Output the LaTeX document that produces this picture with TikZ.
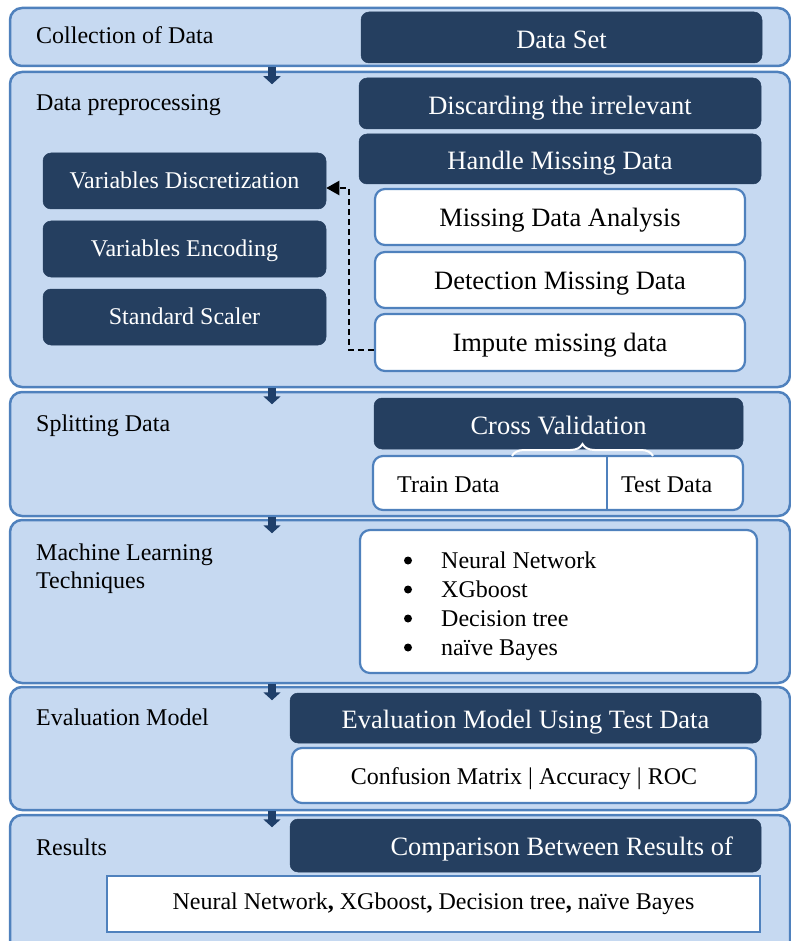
\documentclass[tikz,border=0pt]{standalone}
\usepackage{fontspec}
\setmainfont{Liberation Serif}
\usetikzlibrary{arrows.meta,decorations.pathreplacing}
\definecolor{pfill}{HTML}{C6D9F1}
\definecolor{pline}{HTML}{4F81BD}
\definecolor{dark}{HTML}{253F60}
\definecolor{arrowc}{HTML}{1F3F6A}
\newcommand\fsA{\fontsize{24}{28}\selectfont}
\newcommand\fsB{\fontsize{26.5}{30}\selectfont}
\begin{document}
\begin{tikzpicture}[x=1pt,y=-1pt,
  corners/.style n args={4}{at={({(#1+#3)/2},{(#2+#4)/2})}, minimum width={#3-#1}, minimum height={#4-#2}},
  panel/.style={draw=pline, fill=pfill, line width=2.5pt, rounded corners=12pt, inner sep=0pt},
  dbox/.style={fill=dark, draw=dark, line width=0.5pt, rounded corners=8pt, inner sep=0pt, text=white, font=\fsB, text height=22.5pt, text depth=1.3pt},
  dboxs/.style={dbox, font=\fsA, text height=18.3pt, text depth=3.3pt},
  wbox/.style={fill=white, draw=pline, line width=2.2pt, rounded corners=10pt, inner sep=0pt, font=\fsB, text height=21pt, text depth=2.8pt},
  wboxs/.style={wbox, font=\fsA, text height=16.3pt, text depth=5.3pt},
  lbl/.style={anchor=base west, font=\fsA, inner sep=0pt},
  bul/.style={circle, fill=black, minimum size=8pt, inner sep=0pt},
  parrow/.style={draw=arrowc, line width=8pt, -{Triangle[length=8pt,width=17pt]}},
  dasharrow/.style={draw=black, line width=2.2pt, dash pattern=on 6pt off 4pt, -{Triangle[length=13pt,width=14pt]}}
]
\useasboundingbox (0,0) rectangle (791,941);
\clip (0,0) rectangle (791,941);

% panels
\node[panel, corners={10}{8}{790}{66}] (p1) {};
\node[panel, corners={10}{72}{790}{387}] (p2) {};
\node[panel, corners={10}{392}{790}{516}] (p3) {};
\node[panel, corners={10}{520}{790}{683}] (p4) {};
\node[panel, corners={10}{687}{790}{810}] (p5) {};
\node[panel, corners={10}{815}{790}{960}] (p6) {};

% arrows between panels
\coordinate (ax) at (272,0);
\draw[parrow] (ax |- p1.south) -- ++(0,17);
\draw[parrow] (ax |- p2.south) -- ++(0,16);
\draw[parrow] (ax |- p3.south) -- ++(0,16);
\draw[parrow] (ax |- p4.south) -- ++(0,16);
\draw[parrow] (ax |- p5.south) -- ++(0,16);

% panel labels
\node[lbl] (l1) at (36,44) {Collection of Data};
\node[lbl] (l2) at (36,111) {Data preprocessing};
\node[lbl] (l3) at (36,431) {Splitting Data};
\node[lbl] (l4a) at (36,560) {Machine Learning};
\node[lbl] (l4b) at (36,588) {Techniques};
\node[lbl] (l5) at (36,725) {Evaluation Model};
\node[lbl] (l6) at (36,855) {Results};

% panel 1
\node[dbox, corners={361}{12}{762}{63}] (ds) {Data Set};

% panel 2
\node[dbox, corners={359}{78}{761}{129}] (disc) {Discarding the irrelevant};
\node[dbox, corners={359}{134}{761}{184}] (hmd) {Handle Missing Data};
\node[wbox, corners={375}{189}{745}{245}] (mda) {Missing Data Analysis};
\node[wbox, corners={375}{252}{745}{308}] (dmd) {Detection Missing Data};
\node[wbox, corners={375}{314}{745}{371}] (imp) {Impute missing data};
\node[dboxs, corners={43}{153}{326}{209}] (vd) {Variables Discretization};
\node[dboxs, corners={43}{221}{326}{277}] (ve) {Variables Encoding};
\node[dboxs, corners={43}{289}{326}{345}] (ss) {Standard Scaler};
\coordinate (d1) at (375,350);
\coordinate (d2) at (349,188);
\draw[dasharrow] (imp.west |- d1) -| (d2) -- (vd.east |- d2);

% panel 3
\node[dbox, corners={374}{398}{743}{449}] (cv) {Cross Validation};
\node[wbox, corners={373}{456}{743}{510}] (tt) {};
\coordinate (dv) at (607,480);
\draw[draw=pline, line width=2.2pt] (dv |- tt.north) -- (dv |- tt.south);
\node[lbl] (train) at (397,492) {Train Data};
\node[lbl] (test) at (621,492) {Test Data};
\coordinate (b1) at (512,456);
\coordinate (b2) at (653,456);
\draw[white, line width=2pt, decorate, decoration={brace, amplitude=12pt}] (b1) -- (b2);

% panel 4
\node[wbox, corners={360}{530}{757}{673}] (ml) {};
\foreach \t/\yy [count=\i] in {Neural Network/568, XGboost/597, Decision tree/626, naïve Bayes/655}{
  \node[bul] (bul\i) at (408,\yy-7.5) {};
  \node[lbl] (it\i) at (441,\yy) {\t};
}

% panel 5
\node[dbox, corners={290}{693}{761}{743}] (ev) {Evaluation Model Using Test Data};
\node[wboxs, text height=19.3pt, text depth=2.3pt, corners={292}{748}{756}{803}] (cm) {Confusion Matrix | Accuracy | ROC};

% panel 6
\node[dbox, corners={290}{819}{761}{872}] (cmp) {};
\node[anchor=base east, font=\fsB, text=white, inner sep=0pt] (cmpt) at (733,855) {Comparison Between Results of};
\node[wboxs, rounded corners=0pt, corners={107}{876}{760}{932}] (res) {Neural Network\textbf{,} XGboost\textbf{,} Decision tree\textbf{,} naïve Bayes};
\end{tikzpicture}
\end{document}
